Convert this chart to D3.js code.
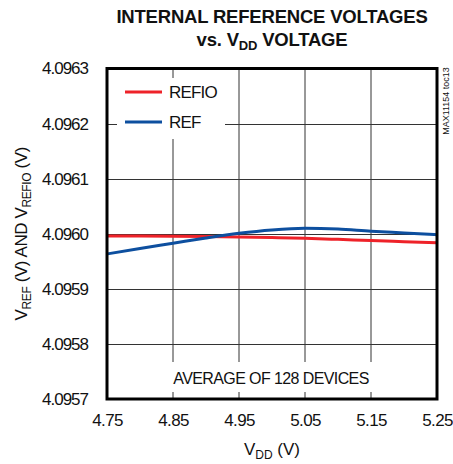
<!DOCTYPE html>
<html>
<head>
<meta charset="utf-8">
<script src="https://cdn.jsdelivr.net/npm/d3@7"></script>
<style>
  body { margin: 0; background: #fff; }
  text { font-family: "Liberation Sans Narrow", "Arial Narrow", "Liberation Sans", sans-serif; fill: #111; }
</style>
</head>
<body>
<div id="chart"></div>
<script>
// data
const vdd = [4.75, 4.80, 4.85, 4.90, 4.95, 5.00, 5.05, 5.10, 5.15, 5.20, 5.25];
const refio = [4.0959960, 4.0959958, 4.0959955, 4.0959950, 4.0959942, 4.0959931, 4.0959918, 4.0959898, 4.0959876, 4.0959857, 4.0959838];
const ref = [4.0959633, 4.0959733, 4.0959828, 4.0959924, 4.0960009, 4.0960070, 4.0960100, 4.0960085, 4.0960045, 4.0960015, 4.0959984];
const xTicks = [4.75, 4.85, 4.95, 5.05, 5.15, 5.25];
const yTicks = [4.0957, 4.0958, 4.0959, 4.0960, 4.0961, 4.0962, 4.0963];
const seriesNames = ["REFIO", "REF"];
const seriesColors = ["#ee2229", "#0d4f9f"];

const W = 453, H = 464;
const plot = { left: 107, right: 437, top: 68.5, bottom: 399 };

const svg = d3.select('#chart').append('svg')
  .attr('width', W).attr('height', H);

const x = d3.scaleLinear().domain([4.75, 5.25]).range([plot.left, plot.right]);
const y = d3.scaleLinear().domain([4.0957, 4.0963]).range([plot.bottom, plot.top]);

// title
const title = svg.append('g').style('font-weight', 'bold').style('font-size', '18.5px')
  .style('letter-spacing', '-0.2px').attr('text-anchor', 'middle');
title.append('text').attr('x', 272).attr('y', 23).text('INTERNAL REFERENCE VOLTAGES');
const t2 = title.append('text').attr('x', 272).attr('y', 46);
t2.append('tspan').text('vs. V');
t2.append('tspan').attr('dy', 4).style('font-size', '13px').text('DD');
t2.append('tspan').attr('dy', -4).text(' VOLTAGE');

// grid
const grid = svg.append('g').attr('stroke', '#333').attr('stroke-width', 1);
grid.selectAll('.vg').data(xTicks.slice(1, -1)).join('line')
  .attr('x1', d => x(d)).attr('x2', d => x(d))
  .attr('y1', plot.top).attr('y2', plot.bottom);
grid.selectAll('.hg').data(yTicks.slice(1, -1)).join('line')
  .attr('x1', plot.left).attr('x2', plot.right)
  .attr('y1', d => Math.round(y(d)) + 0.5).attr('y2', d => Math.round(y(d)) + 0.5);

// white boxes behind legend and note
svg.append('rect').attr('x', 117).attr('y', 78).attr('width', 108).attr('height', 61).attr('fill', '#fff');
svg.append('rect').attr('x', 166).attr('y', 362).attr('width', 212).attr('height', 30).attr('fill', '#fff');

// lines
const line = d3.line().x((d, i) => x(vdd[i])).y(d => y(d)).curve(d3.curveMonotoneX);
[refio, ref].forEach((s, i) => {
  svg.append('path').datum(s).attr('d', line)
    .attr('fill', 'none').attr('stroke', seriesColors[i]).attr('stroke-width', 3);
});

// frame
svg.append('rect').attr('x', plot.left).attr('y', plot.top)
  .attr('width', plot.right - plot.left).attr('height', plot.bottom - plot.top)
  .attr('fill', 'none').attr('stroke', '#000').attr('stroke-width', 3);

// axes labels
const yAxis = d3.axisLeft(y).tickValues(yTicks).tickFormat(d3.format('.4f')).tickSize(0).tickPadding(19);
svg.append('g').attr('transform', `translate(${plot.left},0)`).call(yAxis)
  .call(g => g.select('.domain').remove())
  .selectAll('text').style('font-size', '17px').style('letter-spacing', '-1px').attr('fill', '#111')
  .style('font-family', '"Liberation Sans Narrow", "Arial Narrow", sans-serif');

const xAxis = d3.axisBottom(x).tickValues(xTicks).tickFormat(d3.format('.2f')).tickSize(0).tickPadding(15);
svg.append('g').attr('transform', `translate(0,${plot.bottom})`).call(xAxis)
  .call(g => g.select('.domain').remove())
  .selectAll('text').style('font-size', '17px').style('letter-spacing', '-0.6px').attr('fill', '#111')
  .style('font-family', '"Liberation Sans Narrow", "Arial Narrow", sans-serif');

const xt = svg.append('text').attr('x', 272).attr('y', 455).attr('text-anchor', 'middle').style('font-size', '17px');
xt.append('tspan').text('V');
xt.append('tspan').attr('dy', 4).style('font-size', '12px').text('DD');
xt.append('tspan').attr('dy', -4).text(' (V)');

const yt = svg.append('text').attr('transform', `translate(27,${(plot.top + plot.bottom) / 2}) rotate(-90)`)
  .attr('text-anchor', 'middle').style('font-size', '17px').style('letter-spacing', '-0.4px');
yt.append('tspan').text('V');
yt.append('tspan').attr('dy', 4).style('font-size', '12px').text('REF');
yt.append('tspan').attr('dy', -4).text(' (V) AND V');
yt.append('tspan').attr('dy', 4).style('font-size', '12px').text('REFIO');
yt.append('tspan').attr('dy', -4).text(' (V)');

// legend
const leg = svg.append('g');
seriesNames.forEach((n, i) => {
  const ly = 92 + i * 30;
  leg.append('line').attr('x1', 125).attr('x2', 162).attr('y1', ly).attr('y2', ly)
    .attr('stroke', seriesColors[i]).attr('stroke-width', 3);
  leg.append('text').attr('x', 169).attr('y', ly + 6).style('font-size', '17px')
    .style('letter-spacing', '-0.8px').text(n);
});

// note
svg.append('text').attr('x', 271).attr('y', 384).attr('text-anchor', 'middle')
  .style('font-size', '16px').style('letter-spacing', '-0.6px').text('AVERAGE OF 128 DEVICES');

// figure id
svg.append('text').attr('transform', 'translate(449,101) rotate(-90)')
  .attr('text-anchor', 'middle').style('font-size', '9px').text('MAX11154 toc13');
</script>
</body>
</html>
